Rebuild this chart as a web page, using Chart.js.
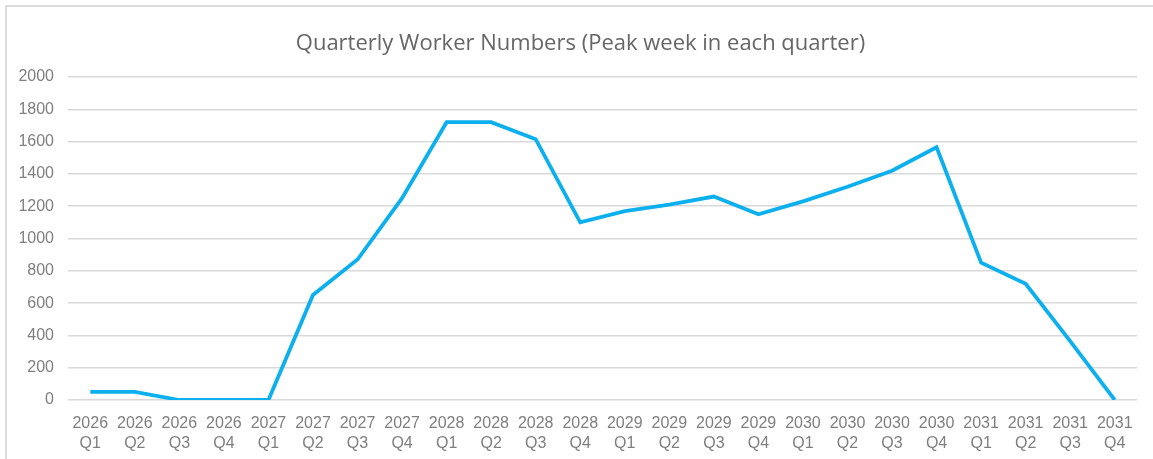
<!DOCTYPE html>
<html>
<head>
<meta charset="utf-8">
<script src="https://cdn.jsdelivr.net/npm/chart.js@4/dist/chart.umd.min.js"></script>
<style>
  html, body { margin: 0; padding: 0; background: #ffffff; }
  #wrap { position: relative; width: 1153px; height: 459px; }
  #title {
    position: absolute; left: 0; top: 26px; width: 1161px;
    text-align: center; font-family: 'Open Sans', sans-serif; font-size: 22px;
    line-height: 30px; color: #666666; white-space: nowrap;
  }
</style>
</head>
<body>
<div id="wrap"><canvas id="c" width="1153" height="459"></canvas><div id="title"></div></div>
<script>
const years = ["2026","2026","2026","2026","2027","2027","2027","2027","2028","2028","2028","2028","2029","2029","2029","2029","2030","2030","2030","2030","2031","2031","2031","2031"];
const quarters = ["Q1","Q2","Q3","Q4","Q1","Q2","Q3","Q4","Q1","Q2","Q3","Q4","Q1","Q2","Q3","Q4","Q1","Q2","Q3","Q4","Q1","Q2","Q3","Q4"];
const workers = [50, 50, 0, 0, 0, 650, 870, 1250, 1720, 1720, 1615, 1100, 1170, 1210, 1260, 1150, 1230, 1320, 1420, 1565, 850, 720, 365, 0];
const yTicks = { min: 0, max: 2000, step: 200 };
const titleText = "Quarterly Worker Numbers (Peak week in each quarter)";

document.getElementById('title').textContent = titleText;
const labels = years.map((y, i) => [y, quarters[i]]);

const frame = {
  id: 'frame',
  beforeDraw(chart) {
    const ctx = chart.ctx;
    ctx.save();
    ctx.fillStyle = '#ffffff';
    ctx.fillRect(0, 0, chart.width, chart.height);
    ctx.strokeStyle = '#dcdcdc';
    ctx.lineWidth = 2;
    ctx.beginPath();
    ctx.moveTo(6, chart.height);
    ctx.lineTo(6, 6);
    ctx.lineTo(chart.width, 6);
    ctx.stroke();
    ctx.restore();
  }
};

new Chart(document.getElementById('c'), {
  type: 'line',
  data: {
    labels: labels,
    datasets: [{
      data: workers,
      borderColor: '#0db0ee',
      borderWidth: 3.8,
      pointRadius: 0,
      tension: 0,
      fill: false
    }]
  },
  options: {
    responsive: false,
    animation: false,
    layout: { padding: { left: 0, right: 16, top: 77, bottom: 0 } },
    plugins: {
      legend: { display: false },
      tooltip: { enabled: false },
      title: { display: false }
    },
    scales: {
      x: {
        offset: true,
        grid: { display: false, drawTicks: false },
        border: { display: false },
        ticks: {
          color: '#7f7f7f',
          font: { family: "'Liberation Sans', Arial", size: 16, lineHeight: 1.25 },
          padding: 14,
          maxRotation: 0,
          autoSkip: false
        },
        afterFit(s) { s.height = 59; }
      },
      y: {
        min: yTicks.min,
        max: yTicks.max,
        grid: { color: '#d9d9d9', lineWidth: 1.5, drawTicks: false },
        border: { display: false },
        ticks: {
          stepSize: yTicks.step,
          color: '#7f7f7f',
          font: { family: "'Liberation Sans', Arial", size: 16 },
          padding: 14,
          callback: (v) => String(v)
        },
        afterFit(s) { s.width = 68; }
      }
    }
  },
  plugins: [frame]
});
</script>
</body>
</html>
